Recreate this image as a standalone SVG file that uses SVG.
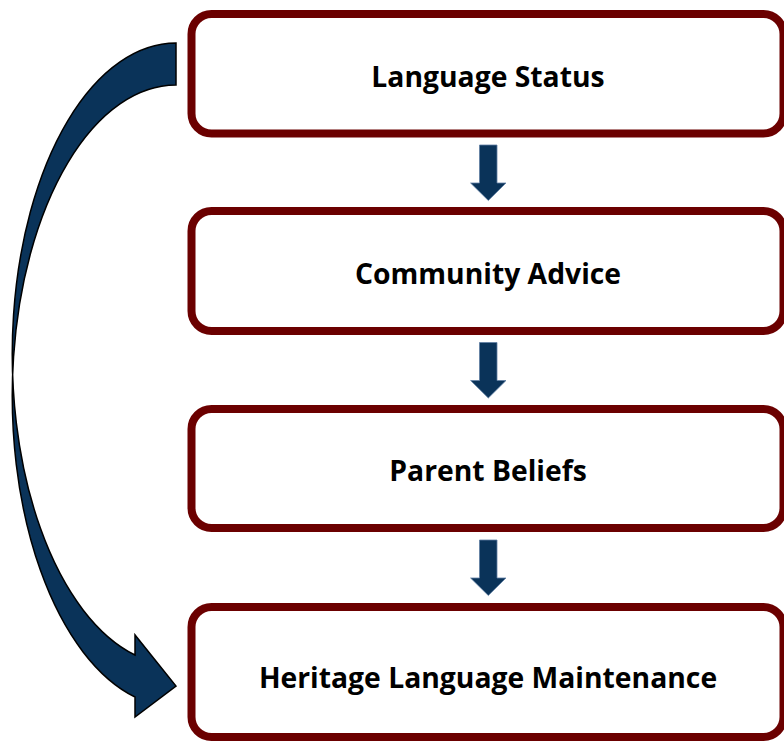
<svg xmlns="http://www.w3.org/2000/svg" width="784" height="744" viewBox="0 0 784 744">
  <style>
    .box { fill: #ffffff; stroke: #6b0000; stroke-width: 8; }
    .label { font-family: "Open Sans", Lato, "Liberation Sans", sans-serif; font-weight: bold; font-size: 28.3px; fill: #000000; text-anchor: middle; }
    .down { fill: #0a3359; stroke: #5f7fa3; stroke-width: 0.8; }
    .curve { fill: #0a3359; stroke: #000000; stroke-width: 1.5; stroke-linejoin: miter; }
  </style>
  <rect width="784" height="744" fill="#ffffff"/>

  <g id="connectors">
    <!-- curved arrow from the first box down to the last -->
    <path class="curve" d="M176,43 A164,311 0 0 0 135,655 L135,635 L176,686 L135,717 L135,697 A164,311 0 0 1 176,85 Z"/>
    <!-- straight arrows between stacked boxes -->
    <path class="down" d="M479.5,145 H497 V183 H506 L488.3,200.5 L470.6,183 H479.5 Z"/>
    <path class="down" d="M479.5,342.5 H497 V380.5 H506 L488.3,398 L470.6,380.5 H479.5 Z"/>
    <path class="down" d="M479.5,540 H497 V578 H506 L488.3,595.5 L470.6,578 H479.5 Z"/>
  </g>

  <g id="language-status">
    <rect class="box" x="191.5" y="14" width="592" height="119.5" rx="20" ry="20"/>
    <text class="label" x="488" y="87">Language Status</text>
  </g>
  <g id="community-advice">
    <rect class="box" x="191.5" y="211" width="592" height="120" rx="20" ry="20"/>
    <text class="label" x="488" y="284">Community Advice</text>
  </g>
  <g id="parent-beliefs">
    <rect class="box" x="191.5" y="409" width="592" height="119" rx="20" ry="20"/>
    <text class="label" x="488" y="481">Parent Beliefs</text>
  </g>
  <g id="heritage-language-maintenance">
    <rect class="box" x="191.5" y="607" width="592" height="130" rx="20" ry="20"/>
    <text class="label" x="488" y="688">Heritage Language Maintenance</text>
  </g>
</svg>
